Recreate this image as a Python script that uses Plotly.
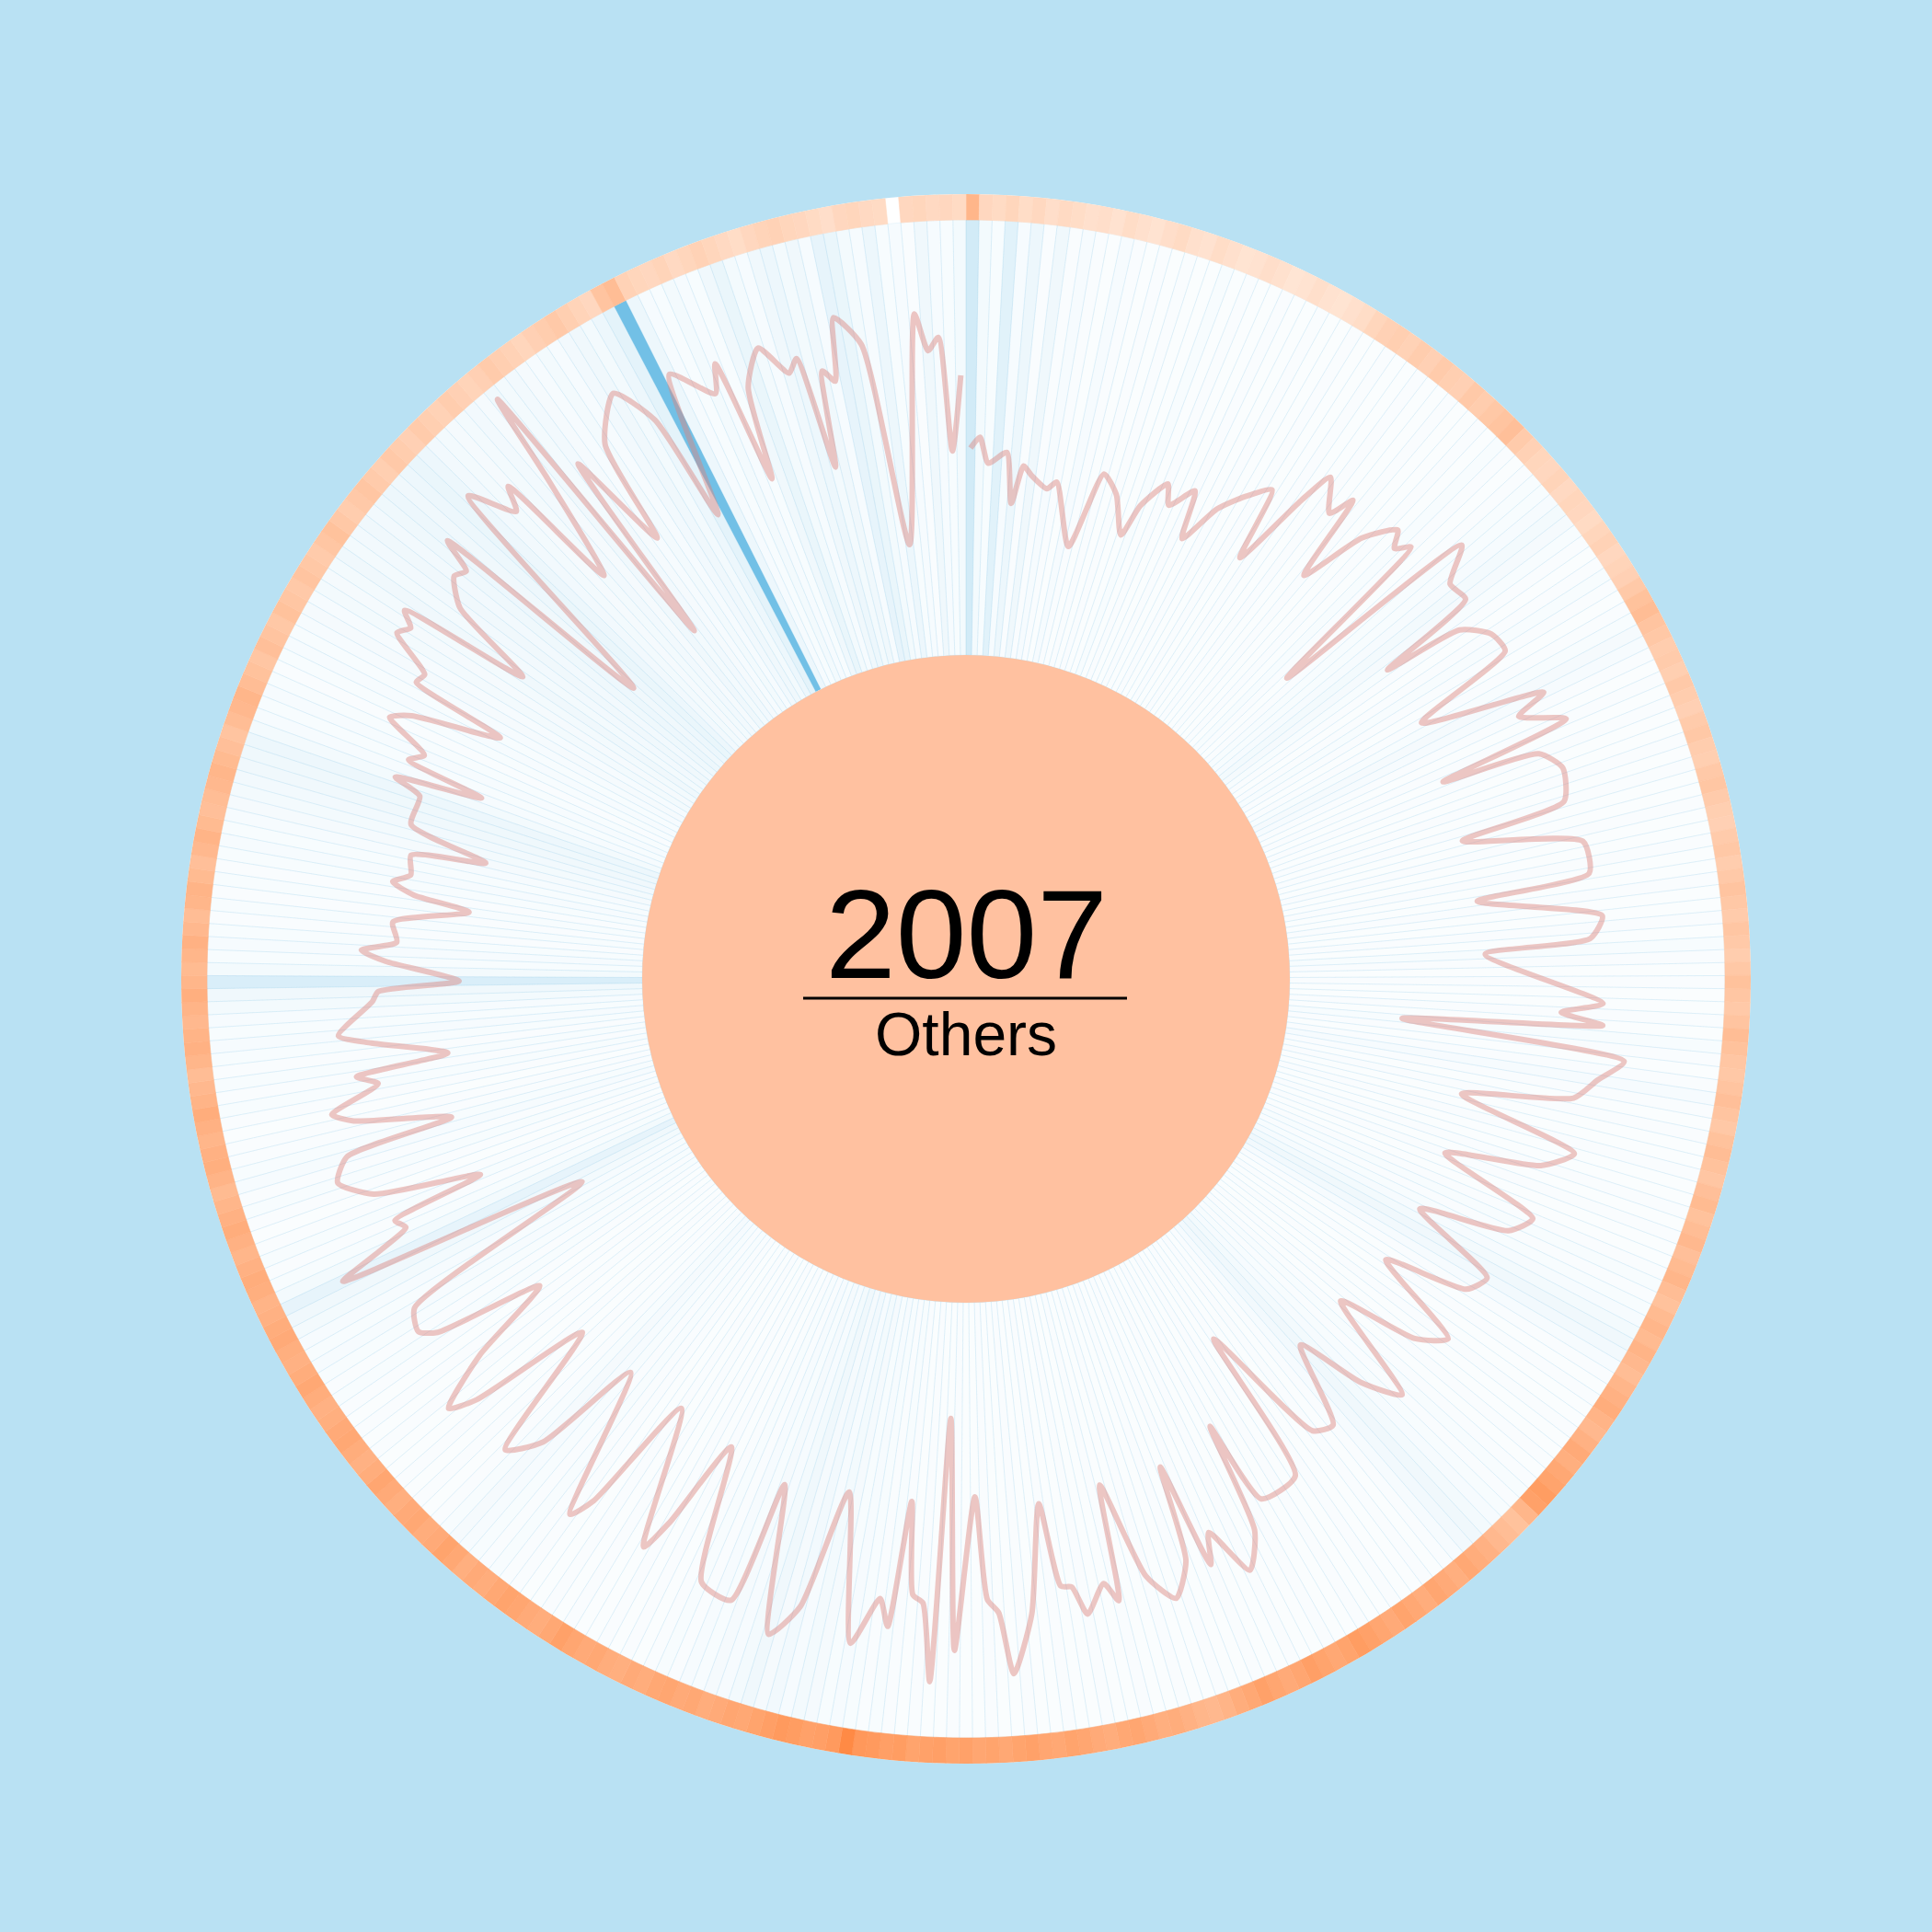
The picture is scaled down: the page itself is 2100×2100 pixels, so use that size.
import plotly.graph_objects as go
import pandas as pd

YEAR_LABEL = "2007"
GROUP_LABEL = "Others"
dates = pd.date_range("2007-01-01", "2007-12-31", freq="D").strftime("%Y-%m-%d").tolist()

# pink daily line: (day-of-year index, value)
line_days = [0, 1, 2, 4, 5, 6, 7, 9, 10, 13, 15, 17, 19, 20, 22, 23, 25, 26, 28, 30,
             32, 33, 35, 36, 38, 39, 40, 42, 44, 45, 46, 47, 49, 51, 53, 54, 55, 57, 59, 61,
             64, 65, 67, 68, 69, 71, 74, 75, 78, 81, 82, 85, 87, 88, 93, 94, 95, 96, 98, 100,
             102, 104, 107, 109, 111, 114, 116, 118, 121, 123, 125, 128, 130, 132, 135, 137, 139, 142, 144, 147,
             148, 152, 153, 154, 156, 158, 159, 160, 161, 163, 165, 167, 168, 169, 171, 172, 173, 174, 176, 178,
             179, 180, 181, 183, 184, 185, 186, 187, 188, 189, 190, 192, 195, 197, 199, 202, 203, 206, 209, 211,
             212, 216, 218, 219, 223, 225, 227, 230, 232, 233, 235, 237, 239, 240, 242, 245, 247, 248, 249, 250,
             251, 253, 255, 257, 258, 260, 261, 263, 264, 265, 267, 268, 271, 272, 273, 275, 276, 277, 279, 281,
             282, 283, 284, 286, 287, 289, 292, 293, 294, 295, 296, 298, 299, 301, 302, 303, 305, 306, 307, 308,
             310, 312, 313, 314, 315, 318, 320, 321, 322, 324, 325, 326, 327, 329, 330, 333, 335, 336, 338, 341,
             342, 343, 344, 346, 348, 349, 350, 351, 352, 353, 355, 357, 360, 361, 362, 363, 364]
line_values = [225, 237, 209, 222, 167, 209, 200, 188, 197, 131, 217, 199, 159, 196, 229, 208, 234, 181, 227, 254,
               275, 194, 283, 322, 290, 317, 220, 292, 325, 308, 322, 126, 364, 327, 330, 216, 305, 331, 334, 216,
               349, 313, 359, 209, 317, 336, 326, 208, 335, 335, 210, 343, 328, 213, 341, 296, 342, 124, 369, 343,
               321, 201, 336, 305, 202, 317, 298, 201, 301, 288, 197, 302, 273, 185, 303, 262, 187, 276, 267, 123,
               296, 298, 202, 325, 361, 305, 338, 219, 324, 359, 326, 217, 344, 322, 351, 319, 316, 224, 342, 405,
               338, 323, 211, 378, 126, 413, 328, 320, 219, 357, 328, 381, 220, 354, 392, 232, 370, 364, 217, 321,
               358, 208, 345, 372, 210, 330, 364, 215, 350, 379, 316, 219, 339, 356, 346, 120, 401, 351, 314, 322,
               217, 333, 366, 348, 227, 331, 353, 297, 319, 217, 298, 333, 294, 287, 199, 279, 306, 268, 274, 193,
               255, 280, 262, 266, 185, 274, 274, 306, 210, 299, 285, 336, 315, 218, 327, 323, 372, 362, 378, 231,
               330, 356, 349, 386, 128, 402, 353, 379, 237, 354, 458, 128, 349, 233, 349, 391, 343, 220, 380, 340,
               370, 231, 333, 370, 334, 347, 222, 327, 313, 381, 347, 124, 373, 332, 346, 222, 304]

# opacity of each day's light-blue radial bar
bar_alpha = [
    0.30, 0.08, 0.05, 0.20, 0.06, 0.12, 0.04, 0.10, 0.04, 0.06,
    0.04, 0.03, 0.06, 0.04, 0.03, 0.04, 0.03, 0.04, 0.03, 0.03,
    0.05, 0.03, 0.04, 0.03, 0.03, 0.04, 0.03, 0.03, 0.04, 0.03,
    0.03, 0.04, 0.03, 0.03, 0.04, 0.03, 0.03, 0.04, 0.03, 0.03,
    0.04, 0.03, 0.03, 0.04, 0.03, 0.05, 0.04, 0.03, 0.04, 0.05,
    0.05, 0.06, 0.08, 0.07, 0.05, 0.04, 0.03, 0.04, 0.05, 0.04,
    0.03, 0.04, 0.05, 0.07, 0.06, 0.04, 0.03, 0.04, 0.03, 0.04,
    0.03, 0.03, 0.04, 0.03, 0.04, 0.03, 0.03, 0.04, 0.03, 0.03,
    0.04, 0.03, 0.03, 0.04, 0.03, 0.03, 0.04, 0.03, 0.05, 0.04,
    0.03, 0.04, 0.03, 0.03, 0.04, 0.03, 0.05, 0.04, 0.03, 0.04,
    0.06, 0.04, 0.03, 0.04, 0.03, 0.03, 0.04, 0.03, 0.03, 0.04,
    0.03, 0.04, 0.03, 0.03, 0.04, 0.05, 0.04, 0.05, 0.06, 0.08,
    0.10, 0.09, 0.06, 0.04, 0.03, 0.04, 0.03, 0.03, 0.04, 0.03,
    0.03, 0.04, 0.03, 0.04, 0.05, 0.04, 0.05, 0.06, 0.08, 0.10,
    0.09, 0.06, 0.04, 0.03, 0.04, 0.03, 0.03, 0.04, 0.03, 0.03,
    0.04, 0.03, 0.03, 0.04, 0.03, 0.03, 0.04, 0.03, 0.03, 0.04,
    0.03, 0.03, 0.04, 0.03, 0.03, 0.04, 0.03, 0.03, 0.04, 0.03,
    0.03, 0.04, 0.03, 0.03, 0.04, 0.03, 0.03, 0.04, 0.03, 0.03,
    0.04, 0.03, 0.03, 0.04, 0.03, 0.03, 0.04, 0.03, 0.04, 0.05,
    0.04, 0.05, 0.06, 0.05, 0.07, 0.08, 0.06, 0.09, 0.07, 0.10,
    0.08, 0.06, 0.07, 0.05, 0.06, 0.04, 0.05, 0.04, 0.03, 0.04,
    0.03, 0.04, 0.03, 0.03, 0.04, 0.03, 0.04, 0.03, 0.03, 0.04,
    0.04, 0.05, 0.04, 0.05, 0.06, 0.07, 0.05, 0.04, 0.03, 0.04,
    0.03, 0.04, 0.03, 0.03, 0.04, 0.03, 0.04, 0.03, 0.04, 0.05,
    0.04, 0.05, 0.06, 0.05, 0.06, 0.08, 0.10, 0.16, 0.08, 0.05,
    0.04, 0.05, 0.04, 0.03, 0.04, 0.05, 0.04, 0.06, 0.05, 0.04,
    0.04, 0.03, 0.04, 0.05, 0.04, 0.05, 0.04, 0.05, 0.06, 0.05,
    0.06, 0.08, 0.10, 0.26, 0.08, 0.05, 0.06, 0.05, 0.04, 0.05,
    0.04, 0.05, 0.04, 0.05, 0.06, 0.05, 0.06, 0.07, 0.08, 0.09,
    0.10, 0.11, 0.12, 0.08, 0.06, 0.05, 0.06, 0.05, 0.04, 0.05,
    0.06, 0.05, 0.06, 0.07, 0.06, 0.08, 0.07, 0.08, 0.10, 0.08,
    0.09, 0.10, 0.09, 0.11, 0.12, 0.10, 0.12, 0.14, 0.12, 0.09,
    0.08, 0.07, 0.08, 0.09, 0.07, 0.10, 0.08, 0.09, 0.07, 0.06,
    0.08, 0.06, 0.09, 0.10, 0.08, 0.12, 0.18, 0.00, 0.12, 0.06,
    0.05, 0.08, 0.06, 0.05, 0.10, 0.14, 0.08, 0.06, 0.10, 0.12,
    0.08, 0.10, 0.06, 0.16, 0.14, 0.08, 0.06, 0.12, 0.05, 0.06,
    0.04, 0.10, 0.06, 0.05, 0.08,
]

# intensity of each day's cell in the outer orange ring (None = no value)
ring_values = [
    0.62, 0.28, 0.24, 0.30, 0.22, 0.27, 0.20, 0.25, 0.22, 0.18,
    0.20, 0.16, 0.22, 0.18, 0.15, 0.20, 0.24, 0.18, 0.16, 0.22,
    0.18, 0.14, 0.16, 0.20, 0.17, 0.13, 0.15, 0.19, 0.16, 0.14,
    0.18, 0.22, 0.30, 0.35, 0.38, 0.34, 0.40, 0.36, 0.42, 0.38,
    0.36, 0.44, 0.40, 0.46, 0.50, 0.54, 0.42, 0.35, 0.30, 0.28,
    0.32, 0.26, 0.30, 0.28, 0.24, 0.30, 0.34, 0.28, 0.32, 0.36,
    0.44, 0.52, 0.56, 0.50, 0.46, 0.40, 0.42, 0.38, 0.44, 0.40,
    0.36, 0.42, 0.46, 0.40, 0.38, 0.44, 0.48, 0.42, 0.38, 0.36,
    0.42, 0.46, 0.40, 0.44, 0.50, 0.46, 0.42, 0.48, 0.44, 0.40,
    0.46, 0.52, 0.48, 0.44, 0.50, 0.56, 0.52, 0.48, 0.46, 0.50,
    0.54, 0.50, 0.46, 0.52, 0.56, 0.52, 0.48, 0.54, 0.58, 0.52,
    0.56, 0.60, 0.54, 0.58, 0.62, 0.56, 0.52, 0.58, 0.62, 0.58,
    0.64, 0.60, 0.56, 0.62, 0.66, 0.70, 0.64, 0.60, 0.66, 0.72,
    0.68, 0.74, 0.78, 0.84, 0.80, 0.62, 0.52, 0.56, 0.60, 0.66,
    0.70, 0.74, 0.68, 0.72, 0.76, 0.70, 0.74, 0.78, 0.72, 0.76,
    0.80, 0.84, 0.78, 0.74, 0.78, 0.82, 0.76, 0.72, 0.76, 0.80,
    0.74, 0.70, 0.64, 0.60, 0.62, 0.66, 0.70, 0.68, 0.72, 0.76,
    0.74, 0.70, 0.72, 0.76, 0.78, 0.74, 0.76, 0.80, 0.78, 0.74,
    0.78, 0.76, 0.80, 0.78, 0.82, 0.80, 0.78, 0.84, 0.82, 0.86,
    0.88, 1.00, 0.86, 0.82, 0.80, 0.84, 0.86, 0.82, 0.78, 0.74,
    0.76, 0.72, 0.70, 0.74, 0.72, 0.76, 0.74, 0.70, 0.72, 0.68,
    0.70, 0.74, 0.72, 0.76, 0.80, 0.74, 0.70, 0.72, 0.76, 0.78,
    0.74, 0.70, 0.72, 0.68, 0.74, 0.78, 0.72, 0.70, 0.74, 0.72,
    0.68, 0.72, 0.76, 0.70, 0.66, 0.70, 0.74, 0.72, 0.68, 0.66,
    0.70, 0.74, 0.70, 0.66, 0.68, 0.72, 0.70, 0.66, 0.64, 0.68,
    0.70, 0.66, 0.62, 0.66, 0.70, 0.66, 0.62, 0.58, 0.64, 0.68,
    0.66, 0.62, 0.66, 0.70, 0.64, 0.60, 0.56, 0.62, 0.66, 0.64,
    0.60, 0.64, 0.68, 0.62, 0.58, 0.62, 0.66, 0.60, 0.56, 0.62,
    0.64, 0.58, 0.54, 0.60, 0.64, 0.58, 0.54, 0.56, 0.60, 0.62,
    0.58, 0.54, 0.50, 0.56, 0.60, 0.62, 0.56, 0.52, 0.48, 0.54,
    0.50, 0.46, 0.52, 0.48, 0.44, 0.50, 0.46, 0.42, 0.48, 0.52,
    0.46, 0.40, 0.44, 0.48, 0.42, 0.38, 0.44, 0.40, 0.36, 0.42,
    0.38, 0.34, 0.40, 0.36, 0.32, 0.36, 0.42, 0.38, 0.34, 0.30,
    0.36, 0.40, 0.44, 0.38, 0.32, 0.28, 0.50, 0.56, 0.34, 0.30,
    0.28, 0.32, 0.26, 0.30, 0.34, 0.30, 0.26, 0.22, 0.28, 0.32,
    0.34, 0.30, 0.28, 0.24, 0.20, 0.28, 0.30, 0.26, 0.24, None,
    0.28, 0.30, 0.26, 0.28, 0.24,
]

highlight_day = 337

# radial layout (axis units)
BAR_TOP = 473
RING_BASE = 473
RING_WIDTH = 28
RADIAL_MAX = 501

assert len(dates) == 365 and len(bar_alpha) == 365 and len(ring_values) == 365
assert len(line_days) == len(line_values)

W = H = 2100
CX, CY = 1050, 1064
R_OUT, R_HOLE = 853, 352

fig = go.Figure()

fig.add_trace(go.Barpolar(
    theta=dates, r=[BAR_TOP] * len(dates), base=0, width=1,
    marker=dict(color=[f"rgba(107,189,230,{a})" for a in bar_alpha],
                line=dict(color="rgba(107,189,230,0.13)", width=0.8)),
    hoverinfo="skip"))

fig.add_trace(go.Barpolar(
    theta=[dates[highlight_day]], r=[BAR_TOP], base=0, width=1,
    marker=dict(color="rgb(114,192,230)", line=dict(width=0)),
    hoverinfo="skip"))

ring_theta = [d for d, v in zip(dates, ring_values) if v is not None]
ring_col = [v for v in ring_values if v is not None]
ring_scale = [[0, "#FFF0E6"], [0.5, "#FFC4A0"], [1, "#FF8A45"]]
fig.add_trace(go.Barpolar(
    theta=ring_theta, r=[RING_WIDTH] * len(ring_theta), base=RING_BASE, width=1,
    marker=dict(color=ring_col, colorscale=ring_scale, cmin=0, cmax=1,
                line=dict(color=ring_col, colorscale=ring_scale, cmin=0, cmax=1, width=0.6)),
    hoverinfo="skip"))

fig.add_trace(go.Scatterpolar(
    theta=[dates[d] for d in line_days], r=line_values, mode="lines",
    line=dict(color="rgba(220,130,125,0.45)", width=6, shape="spline", smoothing=0.6),
    hoverinfo="skip"))

slot = 360 / len(dates)
fig.update_layout(
    width=W, height=H,
    margin=dict(l=0, r=0, t=0, b=0),
    paper_bgcolor="#B9E1F3",
    showlegend=False,
    polar=dict(
        domain=dict(x=[(CX - R_OUT) / W, (CX + R_OUT) / W],
                    y=[(H - CY - R_OUT) / H, (H - CY + R_OUT) / H]),
        hole=R_HOLE / R_OUT,
        bgcolor="white",
        bargap=0,
        radialaxis=dict(range=[0, RADIAL_MAX], visible=False),
        angularaxis=dict(type="category", categoryorder="array", categoryarray=dates,
                         rotation=90 - slot / 2, direction="clockwise",
                         showgrid=False, showline=False, showticklabels=False, ticks=""),
    ),
)

fig.add_shape(type="circle", xref="paper", yref="paper",
              x0=(CX - R_HOLE) / W, x1=(CX + R_HOLE) / W,
              y0=(H - CY - R_HOLE) / H, y1=(H - CY + R_HOLE) / H,
              fillcolor="#FFC1A0", line=dict(width=0), layer="above")
fig.add_shape(type="line", xref="paper", yref="paper",
              x0=873 / W, x1=1225 / W, y0=(H - 1085) / H, y1=(H - 1085) / H,
              line=dict(color="black", width=3), layer="above")

FONT = "Arial, Liberation Sans, sans-serif"
fig.add_annotation(text=YEAR_LABEL, xref="paper", yref="paper", x=0.5, y=(H - 1015) / H,
                   xanchor="center", yanchor="middle", showarrow=False,
                   font=dict(family=FONT, size=138, color="black"))
fig.add_annotation(text=GROUP_LABEL, xref="paper", yref="paper", x=0.5, y=(H - 1124) / H,
                   xanchor="center", yanchor="middle", showarrow=False,
                   font=dict(family=FONT, size=66, color="black"))

fig.write_html("out.html")
